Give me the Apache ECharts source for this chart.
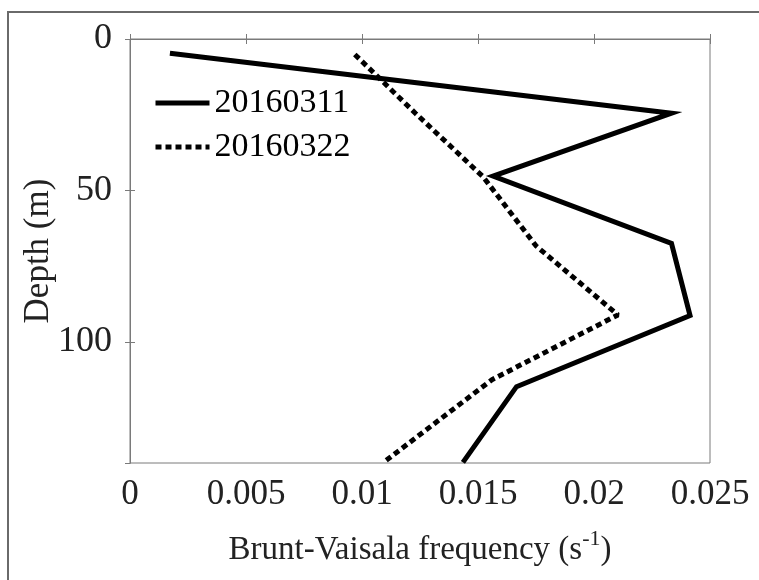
<!DOCTYPE html>
<html>
<head>
<meta charset="utf-8">
<script src="https://cdn.jsdelivr.net/npm/echarts@6/dist/echarts.min.js"></script>
<style>html,body{margin:0;padding:0;background:#fff}#c{width:759px;height:580px}</style>
</head>
<body>
<div id="c"></div>
<script>
var depths = [4.7, 24.5, 45.3, 67.5, 91.3, 114.8, 139.8];
var freq0311 = [0.00172, 0.02334, 0.01565, 0.02334, 0.02414, 0.01666, 0.01435];
var depths0322 = [5.1, 24.5, 45.5, 68.3, 91.1, 112.5, 139.5];
var freq0322 = [0.00969, 0.01230, 0.01522, 0.01750, 0.02103, 0.01560, 0.01098];
var seriesNames = ['20160311', '20160322'];
var xTicks = [0, 0.005, 0.01, 0.015, 0.02, 0.025];
var yTicks = [0, 50, 100];

function pairs(xs, ys) { return xs.map(function (v, i) { return [v, ys[i]]; }); }

var FONT = 'Liberation Serif';
var chart = echarts.init(document.getElementById('c'), null, {renderer: 'canvas'});
var axisLineCol = '#7a7a7a';
var dashPattern = [6, 4];
chart.setOption({
  animation: false,
  backgroundColor: '#fff',
  graphic: [{
    type: 'rect', shape: {x: 8, y: 12, width: 800, height: 700},
    style: {fill: 'none', stroke: '#6a6a6a', lineWidth: 2}, silent: true
  }],
  grid: {left: 130, right: 49, top: 39, bottom: 117, show: true, borderColor: axisLineCol, borderWidth: 1},
  legend: {
    show: true, orient: 'vertical', left: 148, top: 81, itemWidth: 54, itemHeight: 14, itemGap: 10,
    textStyle: {fontFamily: FONT, fontSize: 34, color: '#000'},
    lineStyle: {width: 5},
    itemStyle: {opacity: 0},
    data: [seriesNames[0], seriesNames[1]]
  },
  xAxis: [{
    type: 'value', min: 0, max: 0.025, interval: 0.005, position: 'bottom',
    axisLine: {show: true, lineStyle: {color: axisLineCol}},
    axisTick: {show: true, inside: true, length: 5, lineStyle: {color: axisLineCol}},
    splitLine: {show: false},
    axisLabel: {margin: 14, fontFamily: FONT, fontSize: 35, color: '#222',
      formatter: function (v) { var t = xTicks.filter(function (k) { return Math.abs(k - v) < 1e-9; }); return t.length ? String(t[0]) : ''; }},
    name: 'Brunt-Vaisala frequency (s{sup|-1})', nameLocation: 'middle', nameGap: 65, nameMoveOverlap: false,
    nameTextStyle: {fontFamily: FONT, fontSize: 33, color: '#222', verticalAlign: 'top',
      rich: {sup: {fontFamily: FONT, fontSize: 22, color: '#222', verticalAlign: 'top', padding: [0, 0, 22, 0]}}}
  }, {
    type: 'value', min: 0, max: 0.025, interval: 0.005, position: 'top',
    axisLine: {show: true, lineStyle: {color: axisLineCol}},
    axisTick: {show: true, inside: true, length: 5, lineStyle: {color: axisLineCol}},
    axisLabel: {show: false}, splitLine: {show: false}
  }],
  yAxis: [{
    type: 'value', inverse: true, min: 0, max: 140, interval: 50, position: 'left',
    axisLine: {show: true, lineStyle: {color: axisLineCol}},
    axisTick: {show: true, inside: true, length: 5, lineStyle: {color: axisLineCol}},
    splitLine: {show: false},
    axisLabel: {margin: 18, fontFamily: FONT, fontSize: 36, color: '#222', showMaxLabel: false,
      formatter: function (v) { return yTicks.indexOf(v) >= 0 ? String(v) : ''; }},
    name: 'Depth (m)', nameLocation: 'middle', nameGap: 74, nameRotate: 90, nameMoveOverlap: false,
    nameTextStyle: {fontFamily: FONT, fontSize: 35, color: '#222'}
  }, {
    type: 'value', inverse: true, min: 0, max: 140, interval: 50, position: 'right',
    axisLine: {show: true, lineStyle: {color: axisLineCol}},
    axisTick: {show: true, inside: true, length: 5, lineStyle: {color: axisLineCol}},
    axisLabel: {show: false}, splitLine: {show: false}
  }],
  series: [{
    name: seriesNames[0], type: 'line', xAxisIndex: 0, yAxisIndex: 0,
    data: pairs(freq0311, depths), showSymbol: false, symbol: 'none',
    lineStyle: {width: 5, color: '#000', type: 'solid', join: 'miter'}, itemStyle: {color: '#000'}
  }, {
    name: seriesNames[1], type: 'line', xAxisIndex: 0, yAxisIndex: 0,
    data: pairs(freq0322, depths0322), showSymbol: false, symbol: 'none',
    lineStyle: {width: 5, color: '#000', type: dashPattern}, itemStyle: {color: '#000'}
  }]
});
</script>
</body>
</html>
